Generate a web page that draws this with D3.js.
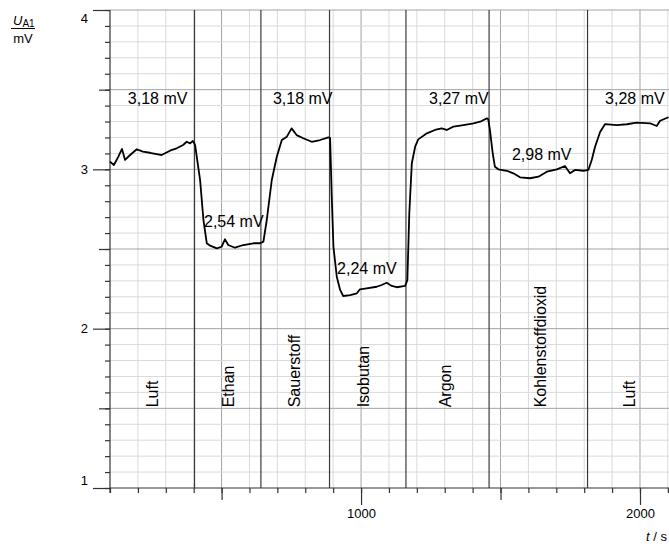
<!DOCTYPE html>
<html>
<head>
<meta charset="utf-8">
<script src="https://cdn.jsdelivr.net/npm/d3@7"></script>
<style>
  body { margin: 0; background: #fff; }
  svg { display: block; font-family: "Liberation Sans", Arial, sans-serif; }
</style>
</head>
<body>
<div id="chart"></div>
<script>
/* Sensor voltage U_A1 while different gases flow past */

const times = [100, 114, 129, 143, 154, 172, 196, 218, 243, 267, 285, 315, 339, 362, 375, 387, 397, 405,
    423, 435, 447, 459, 483, 500, 512, 524, 548, 578, 614, 638, 650,
    662, 680, 698, 716, 734, 751, 769, 793, 823, 853, 883, 889,
    895, 901, 913, 925, 936, 961, 985, 996, 1020, 1056, 1074, 1092, 1110, 1128, 1158, 1166,
    1173, 1182, 1194, 1205, 1236, 1265, 1289, 1307, 1331, 1367, 1403, 1427, 1451, 1456,
    1462, 1472, 1480, 1492, 1522, 1546, 1570, 1606, 1636, 1666, 1702, 1731, 1749, 1767, 1797, 1815,
    1827, 1839, 1857, 1875, 1917, 1953, 1988, 2036, 2060, 2072, 2102];
const voltages = [3.048, 3.027, 3.077, 3.128, 3.059, 3.090, 3.126, 3.111, 3.104, 3.096, 3.090, 3.117, 3.132, 3.153, 3.173, 3.163, 3.178, 3.153,
    2.933, 2.682, 2.536, 2.521, 2.504, 2.514, 2.561, 2.525, 2.508, 2.525, 2.536, 2.536, 2.546,
    2.682, 2.933, 3.079, 3.184, 3.205, 3.257, 3.215, 3.195, 3.173, 3.184, 3.201, 3.197,
    2.828, 2.514, 2.326, 2.243, 2.205, 2.211, 2.222, 2.247, 2.253, 2.263, 2.274, 2.288, 2.268, 2.260, 2.268, 2.305,
    2.724, 3.038, 3.142, 3.188, 3.226, 3.247, 3.257, 3.247, 3.268, 3.278, 3.289, 3.299, 3.320, 3.314,
    3.247, 3.101, 3.016, 3.000, 2.991, 2.975, 2.950, 2.944, 2.954, 2.985, 3.000, 3.021, 2.975, 2.996, 2.991, 2.996,
    3.059, 3.142, 3.234, 3.284, 3.278, 3.283, 3.293, 3.289, 3.272, 3.305, 3.327];

// moments when the gas was switched
const switchTimes = [403, 641, 887, 1161, 1459, 1812];

// gas names and where their labels sit
const gasNames = ["Luft", "Ethan", "Sauerstoff", "Isobutan", "Argon", "Kohlenstoffdioxid", "Luft"];
const gasLabelTimes = [272, 545, 781, 1029, 1323, 1663, 1982];

// plateau values written into the plot
const levelTexts = ["3,18 mV", "2,54 mV", "3,18 mV", "2,24 mV", "3,27 mV", "2,98 mV", "3,28 mV"];
const levelTimes = [164, 437, 684, 914, 1244, 1541, 1875];
const levelVolts = [3.41, 2.64, 3.41, 2.34, 3.41, 3.06, 3.41];

// tick labels
const xTickLabels = [1000, 2000];
const yTickLabels = [1, 2, 3, 4];

const width = 669,
      height = 544,
      margin = ({ top: 10, right: 0, bottom: 56, left: 110 });

let svg = d3.select("#chart")
    .append("svg")
    .attr("width", width)
    .attr("height", height);

let x = d3.scaleLinear()
    .domain([100, 2104])
    .range([margin.left, width - margin.right]);

let y = d3.scaleLinear()
    .domain([1, 4])
    .range([height - margin.bottom, margin.top]);

const minorX = d3.range(100, 2101, 100),
      minorY = d3.range(10, 41).map(d => d / 10);

// grid: light every 100 s / 0.1 mV, darker every 500 s / 0.5 mV
svg.append("g")
    .selectAll("line")
    .data(minorX.filter(d => d > 100))
    .join("line")
    .attr("x1", d => x(d)).attr("x2", d => x(d))
    .attr("y1", y(4)).attr("y2", y(1))
    .attr("stroke", d => d % 500 === 0 ? "#a3a3a3" : "#dadada")
    .attr("stroke-width", 1);

svg.append("g")
    .selectAll("line")
    .data(minorY.filter(d => d > 1))
    .join("line")
    .attr("x1", x(100)).attr("x2", width)
    .attr("y1", d => y(d)).attr("y2", d => y(d))
    .attr("stroke", d => Math.round(d * 10) % 5 === 0 ? "#a3a3a3" : "#dadada")
    .attr("stroke-width", 1);

// gas switch lines
svg.append("g")
    .selectAll("line")
    .data(switchTimes)
    .join("line")
    .attr("x1", d => x(d)).attr("x2", d => x(d))
    .attr("y1", y(4)).attr("y2", y(1))
    .attr("stroke", "#3a3a3a")
    .attr("stroke-width", 1.2);

// axes, three tick lengths each
function styleAxis(g) {
    g.attr("font-size", 13).attr("font-family", "'Liberation Sans', Arial, sans-serif");
    g.selectAll("line").attr("stroke", "#333").attr("stroke-width", 1.2);
    g.select(".domain").remove();
    g.selectAll("text").attr("fill", "#000");
}

svg.append("g")
    .attr("transform", `translate(0,${y(1)})`)
    .call(d3.axisBottom(x).tickValues(minorX).tickSize(5).tickFormat(""))
    .call(styleAxis);
svg.append("g")
    .attr("transform", `translate(0,${y(1)})`)
    .call(d3.axisBottom(x).tickValues([500, 1500]).tickSize(12).tickFormat(""))
    .call(styleAxis);
svg.append("g")
    .attr("transform", `translate(0,${y(1)})`)
    .call(d3.axisBottom(x).tickValues(xTickLabels).tickSize(17).tickPadding(4).tickFormat(d3.format("d")))
    .call(styleAxis);

svg.append("g")
    .attr("transform", `translate(${x(100)},0)`)
    .call(d3.axisLeft(y).tickValues(minorY).tickSize(5).tickFormat(""))
    .call(styleAxis);
svg.append("g")
    .attr("transform", `translate(${x(100)},0)`)
    .call(d3.axisLeft(y).tickValues([1.5, 2.5, 3.5]).tickSize(11).tickFormat(""))
    .call(styleAxis);
let yAxis = svg.append("g")
    .attr("transform", `translate(${x(100)},0)`)
    .call(d3.axisLeft(y).tickValues(yTickLabels).tickSize(17).tickPadding(5).tickFormat(d3.format("d")))
    .call(styleAxis);
// end labels pulled inside the frame
yAxis.selectAll(".tick text")
    .attr("dy", d => d === 4 ? "0.95em" : d === 1 ? "-0.25em" : "0.32em");

// axis lines
svg.append("line")
    .attr("x1", x(100)).attr("x2", x(100))
    .attr("y1", y(4)).attr("y2", y(1) + 5)
    .attr("stroke", "#333").attr("stroke-width", 1.2);
svg.append("line")
    .attr("x1", x(100)).attr("x2", width)
    .attr("y1", y(1)).attr("y2", y(1))
    .attr("stroke", "#333").attr("stroke-width", 1.2);

// measured curve
let line = d3.line()
    .x((d, i) => x(times[i]))
    .y(d => y(d));

svg.append("path")
    .datum(voltages)
    .attr("fill", "none")
    .attr("stroke", "#000")
    .attr("stroke-width", 1.8)
    .attr("stroke-linejoin", "round")
    .attr("d", line);

// plateau values
svg.append("g")
    .selectAll("text")
    .data(levelTexts)
    .join("text")
    .attr("x", (d, i) => x(levelTimes[i]))
    .attr("y", (d, i) => y(levelVolts[i]))
    .attr("font-size", 16)
    .text(d => d);

// gas names, rotated
svg.append("g")
    .selectAll("text")
    .data(gasNames)
    .join("text")
    .attr("transform", (d, i) => `translate(${x(gasLabelTimes[i])},${y(1.5) - 1}) rotate(-90)`)
    .attr("font-size", 16)
    .text(d => d);

// y label as a fraction
let yl = svg.append("g").attr("font-size", 13);
yl.append("text")
    .attr("x", 13).attr("y", 25)
    .html('<tspan font-style="italic">U</tspan><tspan font-size="10" dy="2">A1</tspan>');
yl.append("line")
    .attr("x1", 11).attr("x2", 35)
    .attr("y1", 28.5).attr("y2", 28.5)
    .attr("stroke", "#000").attr("stroke-width", 1);
yl.append("text")
    .attr("x", 23).attr("y", 43)
    .attr("text-anchor", "middle")
    .text("mV");

// x label at the bottom right corner
svg.append("text")
    .attr("x", 667).attr("y", 541)
    .attr("text-anchor", "end")
    .attr("font-size", 13)
    .html('<tspan font-style="italic">t</tspan> / s');
</script>
</body>
</html>
